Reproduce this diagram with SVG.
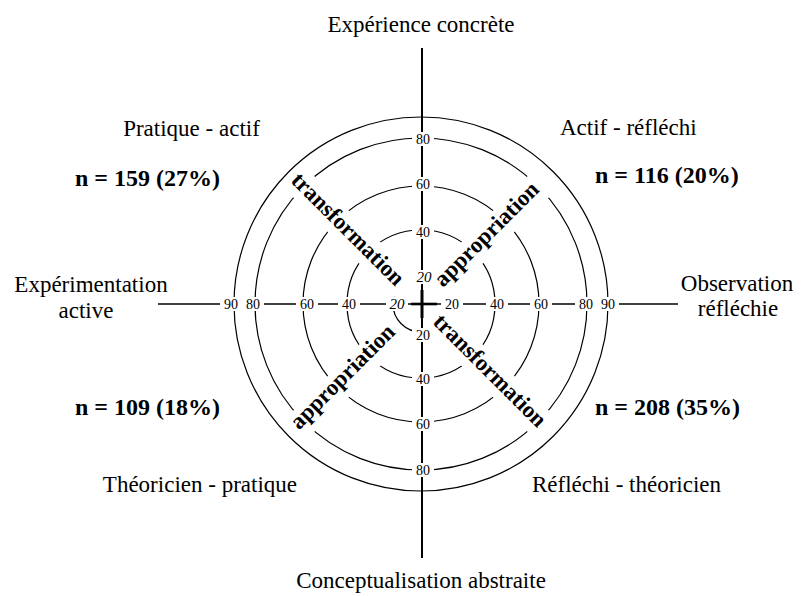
<svg xmlns="http://www.w3.org/2000/svg" width="802" height="596" viewBox="0 0 802 596">
<style>
text { font-family: "Liberation Serif", "Times New Roman", serif; fill: #000; }
.lbl { font-size: 23px; }
.n { font-size: 24px; font-weight: bold; }
.diag { font-size: 23px; font-weight: bold; text-anchor: middle; }
.num { font-size: 14px; text-anchor: middle; }
.it { font-size: 15px; font-style: italic; }
.ring { fill: none; stroke: #000; stroke-width: 1.2; }
.axis { stroke: #000; fill: none; }
.bg { fill: #fff; }
</style>
<defs>
<mask id="cut" maskUnits="userSpaceOnUse" x="0" y="0" width="802" height="596">
<rect width="802" height="596" fill="#fff"/>
<g transform="translate(421 304) rotate(45)" fill="#000">
<rect x="-198" y="-15" width="174" height="30"/>
<rect x="16" y="-15" width="172" height="30"/>
</g>
<g transform="translate(421 304) rotate(-45)" fill="#000">
<rect x="21" y="-15" width="162" height="30"/>
<rect x="-192" y="-15" width="161" height="30"/>
</g>
</mask>
</defs>

<g id="connectors">
<g id="rings" mask="url(#cut)">
<circle class="ring" cx="421" cy="304" r="28"/>
<circle class="ring" cx="421" cy="304" r="74"/>
<circle class="ring" cx="421" cy="304" r="118"/>
<circle class="ring" cx="421" cy="304" r="166"/>
</g>
<circle id="ring90" class="ring" cx="421" cy="304" r="187"/>
<g id="axes" class="axis">
<line x1="422" y1="48" x2="422" y2="558" stroke-width="2"/>
<line x1="158" y1="304" x2="678" y2="304" stroke-width="1.3"/>
<line x1="411" y1="304" x2="437" y2="304" stroke-width="2.6"/>
<line x1="422" y1="290" x2="422" y2="318" stroke-width="3"/>
</g>
</g>

<g id="scale-bg" class="bg">
<rect x="220" y="297" width="22" height="14"/>
<rect x="242" y="297" width="22" height="14"/>
<rect x="296" y="297" width="22" height="14"/>
<rect x="338" y="297" width="22" height="14"/>
<rect x="386" y="297" width="22" height="14"/>
<rect x="441" y="297" width="22" height="14"/>
<rect x="486" y="297" width="22" height="14"/>
<rect x="530" y="297" width="22" height="14"/>
<rect x="575" y="297" width="22" height="14"/>
<rect x="597" y="297" width="22" height="14"/>
<rect x="412" y="132" width="22" height="14"/>
<rect x="412" y="177" width="22" height="14"/>
<rect x="412" y="225" width="22" height="14"/>
<rect x="413" y="270" width="22" height="14"/>
<rect x="412" y="328" width="22" height="14"/>
<rect x="412" y="372" width="22" height="14"/>
<rect x="412" y="417" width="22" height="14"/>
<rect x="412" y="463" width="22" height="14"/>
</g>
<g id="scale">
<text class="num" x="231" y="308.5">90</text>
<text class="num" x="253" y="308.5">80</text>
<text class="num" x="307" y="308.5">60</text>
<text class="num" x="349" y="308.5">40</text>
<text class="num it" x="397" y="309">20</text>
<text class="num" x="452" y="308.5">20</text>
<text class="num" x="497" y="308.5">40</text>
<text class="num" x="541" y="308.5">60</text>
<text class="num" x="586" y="308.5">80</text>
<text class="num" x="608" y="308.5">90</text>
<text class="num" x="423" y="143.5">80</text>
<text class="num" x="423" y="188.5">60</text>
<text class="num" x="423" y="236.5">40</text>
<text class="num it" x="424" y="282">20</text>
<text class="num" x="423" y="339.5">20</text>
<text class="num" x="423" y="383.5">40</text>
<text class="num" x="423" y="428.5">60</text>
<text class="num" x="423" y="474.5">80</text>
</g>

<g id="diagonals">
<text class="diag" transform="translate(347 230) rotate(45)" x="0" y="6">transformation</text>
<text class="diag" transform="translate(487.5 235) rotate(-45)" x="0" y="6">appropriation</text>
<text class="diag" transform="translate(343.5 377.5) rotate(-45)" x="0" y="6">appropriation</text>
<text class="diag" transform="translate(489 371.5) rotate(45)" x="0" y="6">transformation</text>
</g>

<g id="axis-top"><text class="lbl" x="421" y="32" text-anchor="middle">Expérience concrète</text></g>
<g id="axis-bottom"><text class="lbl" x="421" y="588" text-anchor="middle">Conceptualisation abstraite</text></g>
<g id="axis-left">
<text class="lbl" x="91" y="292" text-anchor="middle">Expérimentation</text>
<text class="lbl" x="86" y="318" text-anchor="middle">active</text>
</g>
<g id="axis-right">
<text class="lbl" x="737" y="291" text-anchor="middle">Observation</text>
<text class="lbl" x="738" y="316" text-anchor="middle">réfléchie</text>
</g>

<g id="quad-tl">
<text class="lbl" x="191.5" y="136" text-anchor="middle">Pratique - actif</text>
<text class="n" x="147.5" y="186" text-anchor="middle">n = 159 (27%)</text>
</g>
<g id="quad-tr">
<text class="lbl" x="560" y="135">Actif - réfléchi</text>
<text class="n" x="595" y="183">n = 116 (20%)</text>
</g>
<g id="quad-bl">
<text class="n" x="147.5" y="415" text-anchor="middle">n = 109 (18%)</text>
<text class="lbl" x="297" y="492" text-anchor="end">Théoricien - pratique</text>
</g>
<g id="quad-br">
<text class="n" x="595" y="415">n = 208 (35%)</text>
<text class="lbl" x="532" y="492">Réfléchi - théoricien</text>
</g>
</svg>
